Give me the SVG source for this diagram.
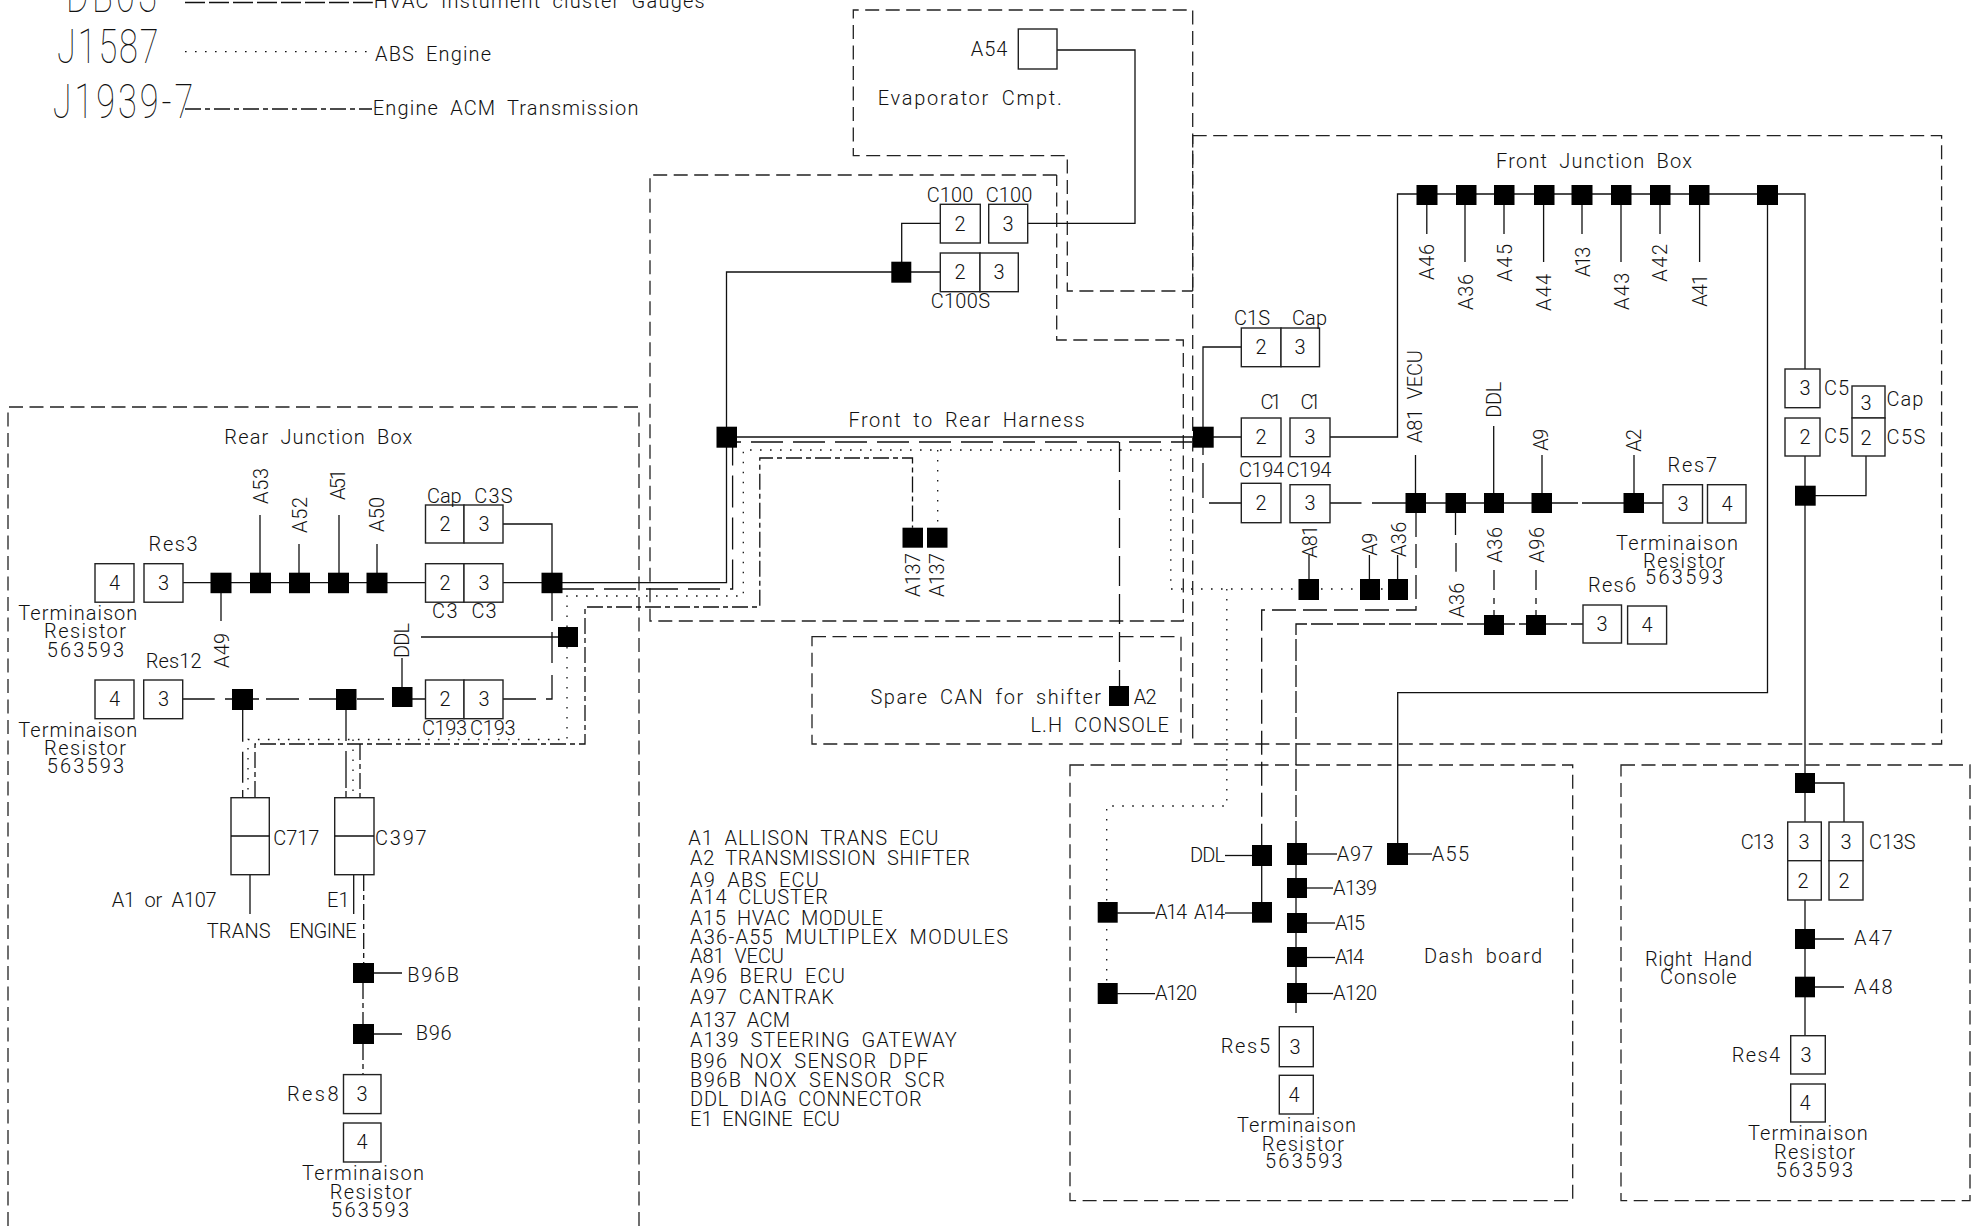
<svg xmlns="http://www.w3.org/2000/svg" width="1973" height="1226" viewBox="0 0 1973 1226">
<style>
text{font-family:Roboto,"Liberation Sans",sans-serif;font-weight:300;font-size:20px;fill:#111;word-spacing:5px}
.big{font-size:49px;font-weight:100}
.m{text-anchor:middle}
path,line{fill:none;stroke:#111;stroke-width:1.3}
.box{fill:#fff;stroke:#222;stroke-width:1.4}
.n{fill:#000;stroke:none}
.r{stroke-dasharray:14 6.5;stroke:#222}
.l{stroke-dasharray:32 10}
.d2{stroke-dasharray:22 4}
.dot{stroke-dasharray:1.6 8.4}
.sd{stroke-dasharray:16 4 5 4}
</style>
<rect width="1973" height="1226" fill="#fff"/>

<g id="regions">
<path class="r" d="M639 1226V407H8V1226"/>
<path class="r" d="M1192.7 291V10H853.3V155.7H1067.3V291H1192.7"/>
<path class="r" d="M1056.7 175H650V621H1183.3V340H1056.7V175"/>
<path class="r" d="M812 636.7H1181V744H812Z"/>
<path class="r" d="M1192.7 135.7H1941.6V744H1192.7Z"/>
<path class="r" d="M1070 765H1572.7V1200.7H1070Z"/>
<path class="r" d="M1621 765H1970V1200.7H1621Z"/>
</g>

<g id="connectors">
<!-- legend -->
<path class="l" style="stroke-dasharray:20 4" d="M185 2.5H372.8"/>
<path class="dot" d="M185 51.7H372"/>
<path class="sd" d="M185 109H372"/>
<!-- solid -->
<path d="M183 582.7H425M503 582.7H552"/>
<path d="M503 524H552V621"/>
<path d="M552 582.7H660M660 582.7H726.5V272H940"/>
<path d="M726.5 437H1241"/>
<path d="M901.7 272V223.3H940"/>
<path d="M1027.7 223.3H1135V50H1057"/>
<path d="M260 582V515M299 582V544M339 582V515M377 582V544M221 583V621"/>
<path d="M1241 347H1203V437"/>
<path d="M1330 437H1397.5V194H1805V369"/>
<path d="M1767.5 194V692.7H1397.7V854"/>
<path d="M1805 456V822M1805 900V1035.7"/>
<path d="M1815 495.7H1866V456"/>
<path d="M1815 783H1844V822"/>
<path d="M1815 939H1844M1815 987H1844"/>
<path d="M1426.8 194V234M1465 194V262M1504 194V234M1543.6 194V262M1582 194V234M1621 194V262M1660 194V234M1699.6 194V262"/>
<path d="M1415.5 493V455M1493.7 493V426M1542 493V455M1634 493V455"/>
<path d="M1309 590V555M1369.4 590V555M1397.6 590V555"/>
<path d="M1330 503H1361.5M1372 503H1578M1582 503H1663"/>
<path d="M250 874V914M353.7 874.7V914"/>
<path d="M374 973H402M374 1034H402"/>
<!-- row 2 rear -->
<path d="M183 699H214.7M225 699H232M253 699H259M266 699H299M309 699H346M357 699H384M402 699H425"/>
<path d="M503 699H536M546 699H552V675M552 663V632"/>
<path d="M421 637H558"/>
<path d="M242.7 710V741.7M242.7 751.7V782.7M242.7 790V797"/>
<path d="M346 710V741M346 751V788M346 791V797"/>
<path d="M402 687V658"/>
<!-- long dash -->
<path class="l" d="M562 589H732.6V442H1192"/>
<path class="l" style="stroke-dasharray:30 8" d="M1119.5 442V686"/>
<path d="M1203 447V455M1203 463V498M1209 503H1241"/>
<path class="l" style="stroke-dasharray:24 7" d="M1416 513V610H1261.7V845"/>
<path d="M1261.7 866V902"/>
<path d="M1455.5 513V535M1456 543V571.7"/>
<path class="d2" d="M1296 843V624H1583"/>
<path d="M1494 570V590M1494 598V604M1494 610V615M1536 570V590M1536 598V604M1536 610V615"/>
<path d="M1296 865V878M1296 898V913M1296 933V947M1296 967V983M1296 1003V1013"/>
<!-- dotted -->
<path class="dot" d="M567 627V596H743.3V450H1170.8V589H1390"/>
<path class="dot" d="M567 647V739.5H248V797"/>
<path class="dot" d="M353 739.5V797"/>
<path class="dot" d="M937.7 450V527.7"/>
<path class="dot" d="M1226.8 589V806H1106.7V993"/>
<!-- short dash -->
<path class="sd" d="M255 797V744H585V607H759.8V458H912.5V527.7"/>
<path class="sd" d="M360 744V797"/>
<path class="sd" d="M363.7 875V963M363 983V1024M363 1044V1075"/>
</g>

<g id="legend">
<text class="big" transform="translate(66 11.7) scale(0.7 1)" textLength="130">DB03</text>
<text x="373.7" y="8" textLength="331">HVAC Instument cluster Gauges</text>
<text class="big" transform="translate(57 62.7) scale(0.7 1)" textLength="145">J1587</text>
<text x="375" y="60.7" textLength="116">ABS Engine</text>
<text class="big" transform="translate(52.7 118) scale(0.7 1)" textLength="201">J1939-7</text>
<text x="372.8" y="115" textLength="265.6">Engine ACM Transmission</text>
</g>

<g id="titles">
<text x="224.3" y="444" textLength="188">Rear Junction Box</text>
<text x="848.6" y="427.3" textLength="236">Front to Rear Harness</text>
<text x="1496" y="168" textLength="196">Front Junction Box</text>
<text x="877.7" y="105" textLength="184">Evaporator Cmpt.</text>
<text x="870.4" y="704" textLength="230.6">Spare CAN for shifter</text>
<text x="1030.4" y="731.7" textLength="138.5">L.H CONSOLE</text>
<text x="1424" y="963" textLength="118">Dash board</text>
<text x="1645" y="966" textLength="107">Right Hand</text>
<text x="1660" y="984" textLength="76.7">Console</text>
<text x="111.7" y="906.7" textLength="105">A1 or A107</text>
<text x="206.7" y="938.3" textLength="64">TRANS</text>
<text x="289" y="938.3" textLength="67.7">ENGINE</text>
<text x="327" y="906.7">E1</text>
</g>

<g id="term-res3"><text x="18.3" y="620" textLength="119">Terminaison</text><text x="44" y="638" textLength="82">Resistor</text><text x="46.7" y="656.7" textLength="77.3">563593</text></g>
<g id="term-res12"><text x="18.3" y="736.7" textLength="119">Terminaison</text><text x="44" y="755" textLength="82">Resistor</text><text x="46.7" y="773" textLength="77.3">563593</text></g>
<g id="term-res8"><text x="302" y="1180" textLength="122">Terminaison</text><text x="329.7" y="1199" textLength="82">Resistor</text><text x="331" y="1217" textLength="78">563593</text></g>
<g id="term-res7"><text x="1616" y="550" textLength="122">Terminaison</text><text x="1643" y="568" textLength="82">Resistor</text><text x="1645" y="584" textLength="78">563593</text></g>
<g id="term-res5"><text x="1237" y="1131.7" textLength="119">Terminaison</text><text x="1261.7" y="1150.7" textLength="82.3">Resistor</text><text x="1265" y="1168" textLength="77.7">563593</text></g>
<g id="term-res4"><text x="1748" y="1140" textLength="119.7">Terminaison</text><text x="1774" y="1159" textLength="81">Resistor</text><text x="1775.7" y="1177" textLength="77.3">563593</text></g>

<g id="ecu-list">
<text x="688.3" y="845" textLength="250">A1 ALLISON TRANS ECU</text>
<text x="690" y="865" textLength="280">A2 TRANSMISSION SHIFTER</text>
<text x="690" y="886.7" textLength="129">A9 ABS ECU</text>
<text x="690" y="904" textLength="138">A14 CLUSTER</text>
<text x="690" y="925" textLength="193">A15 HVAC MODULE</text>
<text x="690" y="944" textLength="318">A36-A55 MULTIPLEX MODULES</text>
<text x="690" y="962.7" textLength="94">A81 VECU</text>
<text x="690" y="983" textLength="155">A96 BERU ECU</text>
<text x="690" y="1004" textLength="144">A97 CANTRAK</text>
<text x="690" y="1027" textLength="100">A137 ACM</text>
<text x="690" y="1047" textLength="266.7">A139 STEERING GATEWAY</text>
<text x="690" y="1067.7" textLength="238">B96 NOX SENSOR DPF</text>
<text x="690" y="1086.7" textLength="255">B96B NOX SENSOR SCR</text>
<text x="690" y="1106" textLength="231.7">DDL DIAG CONNECTOR</text>
<text x="690" y="1125.7" textLength="150">E1 ENGINE ECU</text>
</g>

<!-- rear boxes -->
<g id="res3"><rect class="box" x="95" y="563.7" width="39" height="38.5"/><text class="m" x="114.5" y="590">4</text><rect class="box" x="144" y="563.7" width="39" height="38.5"/><text class="m" x="163.5" y="590">3</text><text x="148.6" y="550.7" textLength="49">Res3</text></g>
<g id="res12"><rect class="box" x="95" y="680" width="39" height="38.7"/><text class="m" x="114.5" y="706">4</text><rect class="box" x="143.7" y="680" width="39" height="38.7"/><text class="m" x="163.5" y="706">3</text><text x="145.7" y="668.3" textLength="56">Res12</text></g>
<g id="c3s"><rect class="box" x="425.5" y="505" width="38.5" height="38"/><rect class="box" x="464" y="505" width="39" height="38"/><text class="m" x="445" y="531">2</text><text class="m" x="484" y="531">3</text><text x="427" y="502.7" textLength="34.7">Cap</text><text x="474.3" y="502.7" textLength="38.3">C3S</text></g>
<g id="c3"><rect class="box" x="425.5" y="563.7" width="38.5" height="38.5"/><rect class="box" x="464" y="563.7" width="39" height="38.5"/><text class="m" x="445" y="590">2</text><text class="m" x="484" y="590">3</text><text x="432" y="618" textLength="25.5">C3</text><text x="471.4" y="618" textLength="25.2">C3</text></g>
<g id="c193"><rect class="box" x="425.5" y="680" width="38.5" height="38.7"/><rect class="box" x="464" y="680" width="39" height="38.7"/><text class="m" x="445" y="706">2</text><text class="m" x="484" y="706">3</text><text x="422" y="735" textLength="45">C193</text><text x="470" y="735" textLength="45.6">C193</text></g>
<g id="c717"><rect class="box" x="231" y="797.7" width="38.3" height="77"/><line x1="231" y1="836" x2="269.3" y2="836"/><text x="273.3" y="845" textLength="46">C717</text></g>
<g id="c397"><rect class="box" x="334.7" y="797.7" width="39.3" height="77"/><line x1="334.7" y1="836" x2="374" y2="836"/><text x="375" y="845" textLength="51.7">C397</text></g>
<g id="res8"><rect class="box" x="343.5" y="1074.6" width="37.5" height="39"/><text class="m" x="362" y="1101">3</text><rect class="box" x="343.5" y="1123" width="37.5" height="39"/><text class="m" x="362" y="1149">4</text><text x="287" y="1101" textLength="51.5">Res8</text></g>

<!-- rear nodes -->
<g id="a49"><rect class="n" x="210.5" y="572.7" width="21" height="20.5"/><text transform="translate(229 668) rotate(-90)" textLength="35">A49</text></g>
<g id="a53"><rect class="n" x="250" y="572.7" width="21" height="20.5"/><text transform="translate(268 504) rotate(-90)" textLength="36">A53</text></g>
<g id="a52"><rect class="n" x="289" y="572.7" width="21" height="20.5"/><text transform="translate(307 533) rotate(-90)" textLength="36">A52</text></g>
<g id="a51"><rect class="n" x="328" y="572.7" width="21" height="20.5"/><text transform="translate(345 500) rotate(-90)" textLength="31">A51</text></g>
<g id="a50"><rect class="n" x="366.5" y="572.7" width="21" height="20.5"/><text transform="translate(384 532) rotate(-90)" textLength="35">A50</text></g>
<g id="n-rear"><rect class="n" x="541.5" y="572.7" width="21" height="20.5"/></g>
<g id="n-rear-ddl"><rect class="n" x="558" y="627" width="20" height="20"/></g>
<g id="n-r2a"><rect class="n" x="232" y="689" width="21" height="21"/></g>
<g id="n-r2b"><rect class="n" x="336" y="689" width="20.5" height="21"/></g>
<g id="ddl-rear"><rect class="n" x="392" y="687" width="20.5" height="20"/><text transform="translate(409 658) rotate(-90)" textLength="35">DDL</text></g>
<g id="b96b"><rect class="n" x="353" y="963" width="21" height="20"/><text x="407.3" y="982.3" textLength="51.7">B96B</text></g>
<g id="b96"><rect class="n" x="353" y="1024" width="21" height="20"/><text x="415.7" y="1040" textLength="36">B96</text></g>

<!-- harness -->
<g id="n-harness-l"><rect class="n" x="716.5" y="426.7" width="20.5" height="21"/></g>
<g id="n-harness-r"><rect class="n" x="1193" y="426.7" width="20.7" height="21"/></g>
<g id="a137a"><rect class="n" x="902.5" y="527.7" width="20.5" height="20"/><text transform="translate(919.5 597) rotate(-90)" textLength="44">A137</text></g>
<g id="a137b"><rect class="n" x="927" y="527.7" width="20.5" height="20"/><text transform="translate(943.6 597) rotate(-90)" textLength="44">A137</text></g>
<g id="a2-console"><rect class="n" x="1109" y="686" width="20" height="20"/><text x="1133.7" y="704" textLength="23">A2</text></g>

<g id="a54"><rect class="box" x="1018.3" y="29" width="38.7" height="40"/><text x="970.7" y="56" textLength="36.6">A54</text></g>
<g id="c100"><rect class="box" x="940.3" y="204.3" width="40" height="38.7"/><text class="m" x="960" y="231">2</text><rect class="box" x="988.7" y="204.3" width="39" height="38.7"/><text class="m" x="1008" y="231">3</text><text x="926.7" y="201.7" textLength="46.6">C100</text><text x="985.7" y="201.7" textLength="46.6">C100</text></g>
<g id="c100s"><rect class="box" x="940.3" y="253" width="39.7" height="38.7"/><rect class="box" x="980" y="253" width="38.3" height="38.7"/><text class="m" x="960" y="279">2</text><text class="m" x="999" y="279">3</text><text x="930.7" y="308" textLength="59.3">C100S</text></g>
<g id="n-c100"><rect class="n" x="891.3" y="261.7" width="20" height="21"/></g>

<!-- front -->
<g id="c1s"><rect class="box" x="1241.3" y="328" width="39.7" height="38.7"/><rect class="box" x="1281" y="328" width="38.5" height="38.7"/><text class="m" x="1261" y="354">2</text><text class="m" x="1300" y="354">3</text><text x="1234" y="325" textLength="36">C1S</text><text x="1292" y="325" textLength="35">Cap</text></g>
<g id="c1"><rect class="box" x="1241.3" y="418" width="39.7" height="38.7"/><text class="m" x="1261" y="444">2</text><rect class="box" x="1290" y="418" width="40" height="38.7"/><text class="m" x="1310" y="444">3</text><text x="1260.6" y="409" textLength="21">C1</text><text x="1300.5" y="409" textLength="20">C1</text></g>
<g id="c194"><rect class="box" x="1241.3" y="483.3" width="39.7" height="39.4"/><text class="m" x="1261" y="510">2</text><rect class="box" x="1290" y="484.7" width="40" height="38"/><text class="m" x="1310" y="510">3</text><text x="1239" y="477" textLength="45">C194</text><text x="1286.4" y="477" textLength="45">C194</text></g>
<g id="res7"><rect class="box" x="1663" y="484.7" width="39.5" height="38.3"/><text class="m" x="1683" y="511">3</text><rect class="box" x="1707.5" y="484.7" width="38.5" height="38.3"/><text class="m" x="1727" y="511">4</text><text x="1667.5" y="471.7" textLength="49.5">Res7</text></g>
<g id="res6"><rect class="box" x="1583" y="605" width="38.5" height="38"/><text class="m" x="1602" y="631">3</text><rect class="box" x="1627.6" y="606" width="39" height="38"/><text class="m" x="1647" y="632">4</text><text x="1588" y="592" textLength="48">Res6</text></g>

<g id="a46"><rect class="n" x="1416.5" y="185" width="21" height="20"/><text transform="translate(1433.5 280) rotate(-90)" textLength="36">A46</text></g>
<g id="a36-top"><rect class="n" x="1456" y="185" width="20.5" height="20"/><text transform="translate(1473 310) rotate(-90)" textLength="36">A36</text></g>
<g id="a45"><rect class="n" x="1494" y="185" width="20.5" height="20"/><text transform="translate(1512 281.7) rotate(-90)" textLength="37.7">A45</text></g>
<g id="a44"><rect class="n" x="1534" y="185" width="20.5" height="20"/><text transform="translate(1551 311) rotate(-90)" textLength="37">A44</text></g>
<g id="a13"><rect class="n" x="1571.5" y="185" width="21" height="20"/><text transform="translate(1590 277) rotate(-90)" textLength="30.3">A13</text></g>
<g id="a43"><rect class="n" x="1611" y="185" width="20.5" height="20"/><text transform="translate(1629 310) rotate(-90)" textLength="37.3">A43</text></g>
<g id="a42"><rect class="n" x="1650" y="185" width="20.5" height="20"/><text transform="translate(1667 281.7) rotate(-90)" textLength="37.7">A42</text></g>
<g id="a41"><rect class="n" x="1689" y="185" width="20.5" height="20"/><text transform="translate(1707 306.7) rotate(-90)" textLength="32.7">A41</text></g>
<g id="n-top-right"><rect class="n" x="1757" y="185" width="21" height="20"/></g>

<g id="a81vecu"><rect class="n" x="1405.5" y="493" width="20.5" height="20"/><text transform="translate(1422 443) rotate(-90)" textLength="93">A81 VECU</text></g>
<g id="n-1456"><rect class="n" x="1445.5" y="493" width="20.5" height="20"/><text transform="translate(1463.5 617.7) rotate(-90)" textLength="35">A36</text></g>
<g id="ddl-front"><rect class="n" x="1484" y="493" width="20" height="20"/><text transform="translate(1501 417.7) rotate(-90)" textLength="36">DDL</text></g>
<g id="a9-top"><rect class="n" x="1531.5" y="493" width="20.5" height="20"/><text transform="translate(1548 450.7) rotate(-90)" textLength="22">A9</text></g>
<g id="a2-top"><rect class="n" x="1623.5" y="493" width="20.5" height="20"/><text transform="translate(1641 451.7) rotate(-90)" textLength="22.7">A2</text></g>

<g id="a81"><rect class="n" x="1298.5" y="579" width="20.5" height="21"/><text transform="translate(1317 558) rotate(-90)" textLength="33">A81</text></g>
<g id="a9"><rect class="n" x="1360" y="579" width="20" height="21"/><text transform="translate(1377 555.7) rotate(-90)" textLength="23">A9</text></g>
<g id="a36"><rect class="n" x="1388" y="579" width="20" height="21"/><text transform="translate(1406 557) rotate(-90)" textLength="35.3">A36</text></g>
<g id="a36-low"><rect class="n" x="1484" y="615" width="20" height="20"/><text transform="translate(1501.5 562.7) rotate(-90)" textLength="35.7">A36</text></g>
<g id="a96"><rect class="n" x="1526" y="615" width="20" height="20"/><text transform="translate(1544 562.7) rotate(-90)" textLength="35.7">A96</text></g>

<g id="c5-3"><rect class="box" x="1785" y="369" width="35" height="38.7"/><text class="m" x="1805" y="395">3</text><text x="1824" y="395" textLength="25">C5</text></g>
<g id="c5-2"><rect class="box" x="1785" y="418" width="35" height="38"/><text class="m" x="1805" y="444">2</text><text x="1824" y="443" textLength="25">C5</text></g>
<g id="c5s"><rect class="box" x="1852" y="386" width="33" height="32"/><rect class="box" x="1852" y="418" width="33" height="38"/><text class="m" x="1866" y="410">3</text><text class="m" x="1866" y="445">2</text><text x="1886.4" y="405.7" textLength="37">Cap</text><text x="1886.4" y="444" textLength="39">C5S</text></g>
<g id="n-c5"><rect class="n" x="1795" y="485.7" width="20.7" height="20"/></g>

<!-- dash board -->
<g id="ddl-dash"><rect class="n" x="1252" y="845" width="20" height="21"/><text x="1190" y="862" textLength="35">DDL</text><line x1="1225" y1="855.5" x2="1252" y2="855.5"/></g>
<g id="a14-a"><rect class="n" x="1252" y="902" width="20" height="20.7"/><text x="1194" y="919" textLength="31">A14</text><line x1="1225" y1="913" x2="1252" y2="913"/></g>
<g id="a14-b"><rect class="n" x="1097.7" y="902" width="20" height="20.7"/><text x="1155" y="919" textLength="32">A14</text><line x1="1117" y1="913" x2="1155" y2="913"/></g>
<g id="a120-b"><rect class="n" x="1097.7" y="983" width="20" height="21"/><text x="1155" y="1000" textLength="42">A120</text><line x1="1117" y1="993.7" x2="1155" y2="993.7"/></g>
<g id="a97"><rect class="n" x="1287" y="843" width="20" height="22"/><text x="1336.7" y="860.7" textLength="36.3">A97</text><line x1="1307" y1="854" x2="1337" y2="854"/></g>
<g id="a139"><rect class="n" x="1287" y="878" width="20" height="20"/><text x="1333" y="895" textLength="44">A139</text><line x1="1307" y1="888" x2="1333" y2="888"/></g>
<g id="a15"><rect class="n" x="1287" y="913" width="20" height="20"/><text x="1335" y="930" textLength="30">A15</text><line x1="1307" y1="923" x2="1335" y2="923"/></g>
<g id="a14"><rect class="n" x="1287" y="947" width="20" height="20"/><text x="1335" y="964" textLength="29">A14</text><line x1="1307" y1="957.5" x2="1335" y2="957.5"/></g>
<g id="a120"><rect class="n" x="1287" y="983" width="20" height="20"/><text x="1333" y="1000" textLength="44">A120</text><line x1="1307" y1="993.5" x2="1333" y2="993.5"/></g>
<g id="a55"><rect class="n" x="1387" y="843" width="21" height="22"/><text x="1431.7" y="861" textLength="37.3">A55</text><line x1="1408" y1="854" x2="1432" y2="854"/></g>
<g id="res5"><rect class="box" x="1279.3" y="1026.7" width="34" height="40"/><text class="m" x="1295" y="1054">3</text><rect class="box" x="1279.3" y="1075.3" width="34" height="38.7"/><text class="m" x="1294" y="1102">4</text><text x="1220.7" y="1053" textLength="49.3">Res5</text></g>

<!-- right hand console -->
<g id="n-rhc"><rect class="n" x="1795" y="773" width="20" height="20"/></g>
<g id="c13"><rect class="box" x="1787.7" y="822" width="33.6" height="38.7"/><rect class="box" x="1787.7" y="860.7" width="33.6" height="39.3"/><text class="m" x="1804" y="849">3</text><text class="m" x="1803" y="888">2</text><text x="1740.7" y="849" textLength="33.3">C13</text></g>
<g id="c13s"><rect class="box" x="1829" y="822" width="34" height="38.7"/><rect class="box" x="1829" y="860.7" width="34" height="39.3"/><text class="m" x="1846" y="849">3</text><text class="m" x="1844" y="888">2</text><text x="1869" y="849" textLength="46.7">C13S</text></g>
<g id="a47"><rect class="n" x="1795" y="929" width="20" height="20"/><text x="1854" y="945" textLength="38.7">A47</text></g>
<g id="a48"><rect class="n" x="1795" y="976.7" width="20" height="20.6"/><text x="1854" y="994" textLength="38.7">A48</text></g>
<g id="res4"><rect class="box" x="1790.7" y="1035.7" width="34.6" height="38.3"/><text class="m" x="1806" y="1062">3</text><rect class="box" x="1790.7" y="1084" width="34.6" height="38"/><text class="m" x="1805" y="1110">4</text><text x="1731.7" y="1061.7" textLength="48.3">Res4</text></g>
</svg>
